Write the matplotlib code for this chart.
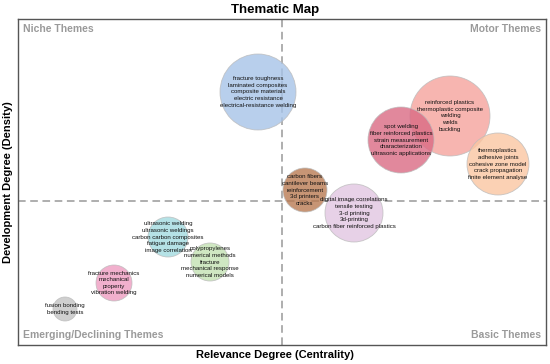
import matplotlib
matplotlib.use("Agg")
import matplotlib.pyplot as plt

plt.rcParams["font.family"] = ["Liberation Sans", "DejaVu Sans"]

# bubble centres (centrality, density), radius in px, colours and labels
centrality = [258, 450, 401, 498, 305, 354, 168, 210, 114, 65]
density = [272, 248, 224, 200, 174, 151, 127, 102, 81, 55]
radius = [38, 40, 33, 31, 22, 29, 20, 19, 18, 12]
colors = ["#a6c3e8", "#f5a39d", "#da6a84", "#fbc6a2", "#b97b52",
          "#e2c6e2", "#a3dbe0", "#c4e2b3", "#ee9cc1", "#c4c4c4"]
labels = [
    ["fracture toughness", "laminated composites", "composite materials",
     "electric resistance", "electrical-resistance welding"],
    ["reinforced plastics", "thermoplastic composite", "welding", "welds", "buckling"],
    ["spot welding", "fiber reinforced plastics", "strain measurement",
     "characterization", "ultrasonic applications"],
    ["thermoplastics", "adhesive joints", "cohesive zone model",
     "crack propagation", "finite element analyse"],
    ["carbon fibers", "cantilever beams", "reinforcement", "3d printers", "cracks"],
    ["digital image correlations", "tensile testing", "3-d printing",
     "3d-printing", "carbon fiber reinforced plastics"],
    ["ultrasonic welding", "ultrasonic weldings", "carbon carbon composites",
     "fatigue damage", "image correlation"],
    ["polypropylenes", "numerical methods", "fracture",
     "mechanical response", "numerical models"],
    ["fracture mechanics", "mechanical", "property", "vibration welding"],
    ["fusion bonding", "bending tests"],
]
X_MID, Y_MID = 282, 163
X_LIM, Y_LIM = (18, 546), (19, 345)

fig = plt.figure(figsize=(5.5, 3.64), dpi=100)
ax = fig.add_axes([18 / 550, 19 / 364, 528 / 550, 326 / 364])
ax.set_xlim(*X_LIM); ax.set_ylim(*Y_LIM)

sizes = [(2 * r * 0.72) ** 2 for r in radius]
ax.scatter(centrality, density, s=sizes, c=colors, alpha=0.8,
           edgecolors="#bbbbbb", linewidths=0.6, zorder=2)
for x, y, lab in zip(centrality, density, labels):
    ax.text(x, y, "\n".join(lab), ha="center", va="center", fontsize=4.4,
            linespacing=1.4, color="#111111", zorder=3)

ax.axvline(X_MID, color="#999999", lw=1.1, ls=(0, (5, 3)), zorder=1)
ax.axhline(Y_MID, color="#999999", lw=1.1, ls=(0, (5, 3)), zorder=1)

qkw = dict(fontsize=7.5, fontweight="bold", color="#9a9a9a")
ax.text(0.01, 0.985, "Niche Themes", transform=ax.transAxes, ha="left", va="top", **qkw)
ax.text(0.99, 0.985, "Motor Themes", transform=ax.transAxes, ha="right", va="top", **qkw)
ax.text(0.01, 0.015, "Emerging/Declining Themes", transform=ax.transAxes, ha="left", va="bottom", **qkw)
ax.text(0.99, 0.015, "Basic Themes", transform=ax.transAxes, ha="right", va="bottom", **qkw)

ax.set_xticks([]); ax.set_yticks([])
for sp in ax.spines.values():
    sp.set_color("#555555"); sp.set_linewidth(1.0)

fig.text(0.5, 1 - 10 / 364, "Thematic Map", ha="center", va="center", fontsize=9.5, fontweight="bold")
fig.text(0.5, 1 - 355 / 364, "Relevance Degree (Centrality)", ha="center", va="center", fontsize=8, fontweight="bold")
fig.text(8 / 550, 0.5, "Development Degree (Density)", ha="center", va="center", rotation=90,
         fontsize=8, fontweight="bold")

fig.savefig("out.png", dpi=100)
